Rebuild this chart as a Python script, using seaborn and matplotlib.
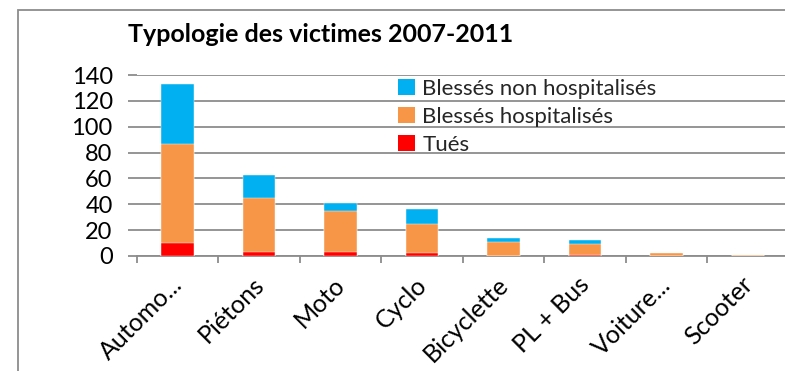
import matplotlib
matplotlib.use("Agg")
import matplotlib.pyplot as plt
import matplotlib.patches as mpatches
import matplotlib.transforms as mtransforms
import seaborn as sns
import pandas as pd

# Victim counts per road-user type, 2007-2011
categories = ["Automo...", "Piétons", "Moto", "Cyclo", "Bicyclette", "PL + Bus", "Voiture...", "Scooter"]
tues = [10, 3, 3, 2, 0, 1, 0, 0]
blesses_hosp = [77, 42, 32, 23, 11, 8, 2, 1]
blesses_non_hosp = [46, 18, 6, 11, 3, 3, 0, 0]
y_ticks = [0, 20, 40, 60, 80, 100, 120, 140]

series_labels = ["Blessés non hospitalisés", "Blessés hospitalisés", "Tués"]
colors = {"Blessés non hospitalisés": "#00B0F0",
          "Blessés hospitalisés": "#F79646",
          "Tués": "#FF0000"}

df = pd.DataFrame({"categorie": categories, "tues": tues,
                   "hosp": blesses_hosp, "non_hosp": blesses_non_hosp})
# cumulative heights so that each layer is drawn on top of the one below
df["haut_tues"] = df["tues"]
df["haut_hosp"] = df["tues"] + df["hosp"]
df["haut_total"] = df["haut_hosp"] + df["non_hosp"]

sns.set_theme(style="white")
plt.rcParams["font.family"] = ["Lato", "DejaVu Sans"]

W, H = 785, 371
fig = plt.figure(figsize=(W / 100, H / 100), dpi=100)
fig.patch.set_facecolor("white")

# chart frame
frame = mpatches.Rectangle((18 / W, -0.1), 1.2, 1 - 10 / H + 0.1, transform=fig.transFigure,
                           fill=False, edgecolor="#8C8C8C", linewidth=1.3, zorder=0)
fig.patches.append(frame)

ax_left, ax_right = 136.7 / W, 788.7 / W
ax_bottom, ax_top = (H - 256) / H, (H - 75) / H
ax = fig.add_axes([ax_left, ax_bottom, ax_right - ax_left, ax_top - ax_bottom])

grid_col = "#8C8C8C"
for col, lab in [("haut_total", "Blessés non hospitalisés"),
                 ("haut_hosp", "Blessés hospitalisés"),
                 ("haut_tues", "Tués")]:
    sns.barplot(data=df, x="categorie", y=col, order=categories, color=colors[lab],
                saturation=1, width=0.4, ax=ax, errorbar=None,
                edgecolor="white", linewidth=0.3, zorder=3)

ax.set_xlim(-0.5, len(categories) - 0.5)
ax.set_ylim(0, 140)
ax.set_yticks(y_ticks)
ax.set_yticklabels([str(v) for v in y_ticks], fontsize=17, color="black")
ax.yaxis.grid(True, color=grid_col, linewidth=1.3)
ax.set_axisbelow(True)
ax.set_xlabel("")
ax.set_ylabel("")

for side in ["left", "right", "top"]:
    ax.spines[side].set_visible(False)
ax.spines["bottom"].set_color(grid_col)
ax.spines["bottom"].set_linewidth(1.3)

ax.tick_params(axis="y", which="major", left=True, length=6.3, width=1.3,
               color=grid_col, pad=11)
# category boundaries carry the tick marks, labels sit at the centres
ax.set_xticks([i - 0.5 for i in range(len(categories) + 1)], minor=True)
ax.tick_params(axis="x", which="minor", bottom=True, length=5, width=1.3,
               color=grid_col)
ax.tick_params(axis="x", which="major", length=0, pad=0)
ax.set_xticks(range(len(categories)))
ax.set_xticklabels(categories, rotation=45, ha="right", va="center",
                   rotation_mode="anchor", fontsize=18, color="black")
offset = mtransforms.ScaledTranslation(1 / 100, -25 / 100, fig.dpi_scale_trans)
for t in ax.get_xticklabels():
    t.set_transform(t.get_transform() + offset)

fig.text(128 / W, 1 - 42 / H, "Typologie des victimes 2007-2011", fontsize=18,
         fontweight="bold", ha="left", va="baseline", color="black")

handles = [mpatches.Patch(facecolor=colors[l], edgecolor="none", label=l)
           for l in series_labels]
fig.legend(handles=handles, loc="upper left", bbox_to_anchor=(398 / W, 1 - 79 / H),
           frameon=False, fontsize=16, handlelength=0.75, handleheight=0.75,
           handletextpad=0.35, labelspacing=0.35, borderaxespad=0, borderpad=0)

fig.savefig("out.png", dpi=100, facecolor="white")
